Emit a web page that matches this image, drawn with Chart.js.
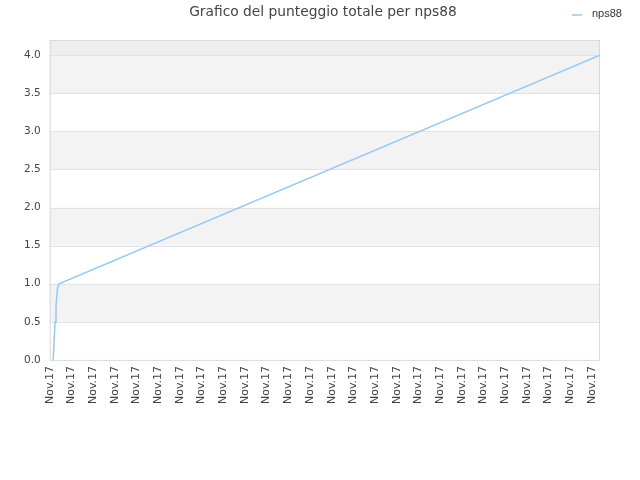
<!DOCTYPE html>
<html>
<head>
<meta charset="utf-8">
<script src="https://cdn.jsdelivr.net/npm/chart.js@4/dist/chart.umd.min.js"></script>
<style>
html,body{margin:0;padding:0;background:#fff;}
#wrap{width:640px;height:480px;}
</style>
</head>
<body>
<div id="wrap"><canvas id="c" width="640" height="480"></canvas></div>
<script>
const chartTitle = "Grafico del punteggio totale per nps88";
const seriesName = "nps88";
const tickLabel = "Nov.17";
const xValues = [0.15, 0.18, 0.21, 0.25, 0.29, 0.33, 0.37, 0.43, 25.37];
const yValues = [0.0, 0.1, 0.3, 0.5, 0.7, 0.85, 0.95, 1.0, 4.0];
const yMax = 4.2;
const xMax = 25.37;

const points = xValues.map((x, i) => ({x: x, y: yValues[i]}));

const bandPlugin = {
  id: 'bands',
  beforeDatasetsDraw(chart) {
    const {ctx, chartArea, scales} = chart;
    const y = scales.y;
    ctx.save();
    for (let v = 0.5; v < 4.0; v += 1.0) {
      const top = y.getPixelForValue(v + 0.5);
      const bot = y.getPixelForValue(v);
      ctx.fillStyle = '#f3f3f3';
      ctx.fillRect(chartArea.left, top, chartArea.right - chartArea.left, bot - top);
    }
    const t = y.getPixelForValue(yMax), b = y.getPixelForValue(4.0);
    ctx.fillStyle = '#eeeeee';
    ctx.fillRect(chartArea.left, t, chartArea.right - chartArea.left, b - t);
    ctx.strokeStyle = '#e2e2e2';
    ctx.lineWidth = 1;
    for (let v = 0.5; v <= 4.0; v += 0.5) {
      const py = Math.round(y.getPixelForValue(v)) + 0.5;
      ctx.beginPath();
      ctx.moveTo(chartArea.left, py);
      ctx.lineTo(chartArea.right, py);
      ctx.stroke();
    }
    ctx.strokeStyle = '#d9d9d9';
    ctx.strokeRect(chartArea.left + 0.5, chartArea.top + 0.5, chartArea.right - chartArea.left - 1, chartArea.bottom - chartArea.top);
    ctx.restore();
  }
};

const headerPlugin = {
  id: 'header',
  afterDraw(chart) {
    const ctx = chart.ctx;
    const ds = chart.data.datasets[0];
    ctx.save();
    ctx.font = '13.8px "DejaVu Sans"';
    ctx.fillStyle = '#444444';
    ctx.textAlign = 'center';
    ctx.textBaseline = 'middle';
    ctx.fillText(chartTitle, 323, 12);
    // legend
    ctx.strokeStyle = ds.borderColor;
    ctx.lineWidth = 1.5;
    ctx.beginPath();
    ctx.moveTo(572, 15);
    ctx.lineTo(582, 15);
    ctx.stroke();
    ctx.font = '11px "Liberation Sans"';
    ctx.fillStyle = '#333333';
    ctx.textAlign = 'left';
    ctx.fillText(ds.label, 592, 14);
    ctx.restore();
  }
};

new Chart(document.getElementById('c'), {
  type: 'line',
  data: {
    datasets: [{
      label: seriesName,
      data: points,
      borderColor: 'rgba(150,200,245,1)',
      backgroundColor: 'rgba(150,200,245,1)',
      borderWidth: 1.5,
      pointRadius: 0,
      fill: false,
      tension: 0
    }]
  },
  options: {
    responsive: false,
    animation: false,
    layout: {padding: {left: 15, right: 40, top: 40, bottom: 70}},
    plugins: {
      title: {display: false},
      tooltip: {enabled: false},
      legend: {display: false}
    },
    scales: {
      x: {
        type: 'linear',
        min: 0,
        max: xMax,
        grid: {display: false, drawTicks: false},
        border: {display: false},
        ticks: {
          stepSize: 1,
          includeBounds: false,
          autoSkip: false,
          maxRotation: 90,
          minRotation: 90,
          padding: 6,
          color: '#444444',
          font: {family: '"DejaVu Sans"', size: 11},
          callback: () => tickLabel
        }
      },
      y: {
        type: 'linear',
        min: 0,
        max: yMax,
        grid: {display: false, drawTicks: false},
        border: {display: false},
        ticks: {
          stepSize: 0.5,
          includeBounds: false,
          padding: 9,
          color: '#444444',
          font: {family: '"DejaVu Sans"', size: 10.5},
          callback: (v) => Number(v).toFixed(1)
        }
      }
    }
  },
  plugins: [bandPlugin, headerPlugin]
});
</script>
</body>
</html>
